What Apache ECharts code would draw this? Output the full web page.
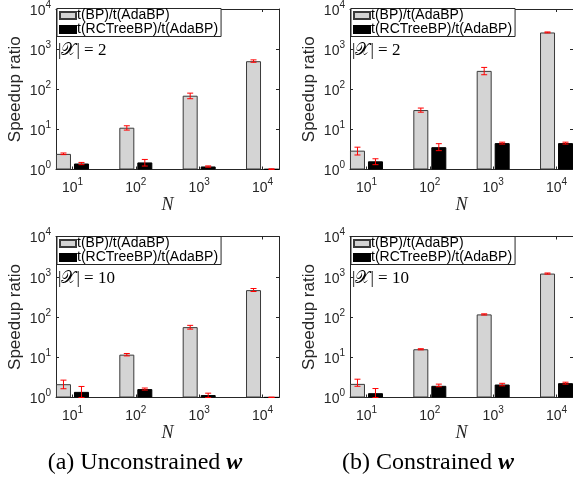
<!DOCTYPE html>
<html>
<head>
<meta charset="utf-8">
<script src="https://cdn.jsdelivr.net/npm/echarts@6.0.0/dist/echarts.min.js"></script>
<style>
html, body { margin: 0; padding: 0; background: #fff; }
#chart { width: 573px; height: 482px; }
</style>
</head>
<body>
<div id="chart"></div>
<script>
// N = 10^1 .. 10^4
const nExponents = [1, 2, 3, 4];
const yExponents = [0, 1, 2, 3, 4];
const seriesNames = ['t(BP)/t(AdaBP)', 't(RCTreeBP)/t(AdaBP)'];

// (a) unconstrained, |X| = 2
const bpUnc2 = [2.45, 11.0, 69, 500];
const bpUnc2Lo = [2.35, 9.6, 58, 470];
const bpUnc2Hi = [2.58, 12.3, 80, 540];
const rcUnc2 = [1.41, 1.5, 1.19, 1.02];
const rcUnc2Lo = [1.32, 1.22, 1.14, 1.0];
const rcUnc2Hi = [1.5, 1.78, 1.23, 1.04];

// (b) constrained, |X| = 2
const bpCon2 = [2.95, 30.3, 287, 2600];
const bpCon2Lo = [2.3, 26.8, 230, 2540];
const bpCon2Hi = [3.6, 34, 350, 2680];
const rcCon2 = [1.6, 3.6, 4.55, 4.55];
const rcCon2Lo = [1.32, 2.95, 4.3, 4.3];
const rcCon2Hi = [1.85, 4.4, 4.8, 4.8];

// (a) unconstrained, |X| = 10
const bpUnc10 = [2.14, 11.6, 56, 465];
const bpUnc10Lo = [1.65, 10.8, 50, 430];
const bpUnc10Hi = [2.7, 12.4, 62, 510];
const rcUnc10 = [1.38, 1.62, 1.15, 1.01];
const rcUnc10Lo = [1.0, 1.53, 1.0, 1.0];
const rcUnc10Hi = [1.88, 1.72, 1.28, 1.02];

// (b) constrained, |X| = 10
const bpCon10 = [2.18, 15.8, 116, 1200];
const bpCon10Lo = [1.9, 15.3, 112, 1160];
const bpCon10Hi = [2.85, 16.3, 120, 1240];
const rcCon10 = [1.28, 1.95, 2.1, 2.27];
const rcCon10Lo = [1.0, 1.85, 1.95, 2.15];
const rcCon10Hi = [1.67, 2.15, 2.25, 2.4];

const panels = [
    { left: 56, top: 8.5, card: '2', bp: [bpUnc2, bpUnc2Lo, bpUnc2Hi], rc: [rcUnc2, rcUnc2Lo, rcUnc2Hi] },
    { left: 350, top: 8.5, card: '2', bp: [bpCon2, bpCon2Lo, bpCon2Hi], rc: [rcCon2, rcCon2Lo, rcCon2Hi] },
    { left: 56, top: 236.5, card: '10', bp: [bpUnc10, bpUnc10Lo, bpUnc10Hi], rc: [rcUnc10, rcUnc10Lo, rcUnc10Hi] },
    { left: 350, top: 236.5, card: '10', bp: [bpCon10, bpCon10Lo, bpCon10Hi], rc: [rcCon10, rcCon10Lo, rcCon10Hi] }
];
const captions = [
    { text: '(a) Unconstrained ', cx: 145 },
    { text: '(b) Constrained ', cx: 428 }
];

const PLOT_W = 223, PLOT_H = 161;
const BAR_W = 15, BAR_GAP = 3;
const X_MIN = 0.74, X_MAX = 4.26;
const AXIS_COLOR = '#262626';
const SANS = '"Liberation Sans", Arial, sans-serif';
const SERIF = '"Liberation Serif", "DejaVu Serif", serif';

const powRich = {
    b: { fontSize: 14, lineHeight: 18, verticalAlign: 'bottom', color: AXIS_COLOR, fontFamily: SANS },
    s: { fontSize: 10, lineHeight: 10, verticalAlign: 'top', color: AXIS_COLOR, fontFamily: SANS }
};

//误差线：以柱子中心为准左右偏移
function errRenderer(shift) {
    return function (params, api) {
        let lo = api.coord([api.value(0), api.value(1)]);
        let hi = api.coord([api.value(0), api.value(2)]);
        let x = lo[0] + shift;
        let st = { stroke: '#ff0000', lineWidth: 1 };
        return {
            type: 'group',
            children: [
                { type: 'line', shape: { x1: x, y1: lo[1], x2: x, y2: hi[1] }, style: st },
                { type: 'line', shape: { x1: x - 3, y1: lo[1], x2: x + 3, y2: lo[1] }, style: st },
                { type: 'line', shape: { x1: x - 3, y1: hi[1], x2: x + 3, y2: hi[1] }, style: st }
            ]
        };
    };
}

let grids = [], xAxes = [], yAxes = [], series = [], legends = [], texts = [];

panels.forEach((p, i) => {
    grids.push({ left: p.left, top: p.top, width: PLOT_W, height: PLOT_H, show: false });

    let xBase = { type: 'value', gridIndex: i, min: X_MIN, max: X_MAX, splitLine: { show: false },
        axisLine: { show: true, onZero: false, lineStyle: { color: AXIS_COLOR, width: 1 } },
        axisTick: { show: true, inside: true, length: 3, customValues: nExponents, lineStyle: { color: AXIS_COLOR } } };
    xAxes.push(Object.assign({}, xBase, {
        position: 'bottom',
        name: 'N', nameLocation: 'middle', nameGap: 11,
        nameTextStyle: { fontFamily: SERIF, fontStyle: 'italic', fontSize: 18, color: AXIS_COLOR },
        axisLabel: { show: true, margin: 8, customValues: nExponents, rich: powRich,
            formatter: v => '{b|10}{s|' + v + '}' }
    }));
    xAxes.push(Object.assign({}, xBase, { position: 'top', axisLabel: { show: false } }));

    let yBase = { type: 'log', logBase: 10, gridIndex: i, min: 1, max: 10000, splitLine: { show: false },
        minorTick: { show: false },
        axisLine: { show: true, lineStyle: { color: AXIS_COLOR, width: 1 } },
        axisTick: { show: true, inside: true, length: 3, lineStyle: { color: AXIS_COLOR } } };
    yAxes.push(Object.assign({}, yBase, {
        position: 'left',
        name: 'Speedup ratio', nameLocation: 'middle', nameGap: 32,
        nameTextStyle: { fontFamily: SANS, fontSize: 17, color: AXIS_COLOR },
        axisLabel: { show: true, margin: 5, rich: powRich,
            formatter: v => '{b|10}{s|' + yExponents[Math.round(Math.log10(v))] + '}' }
    }));
    yAxes.push(Object.assign({}, yBase, { position: 'right', axisLabel: { show: false } }));

    let xi = i * 2, yi = i * 2;
    series.push({
        name: seriesNames[0], type: 'bar', xAxisIndex: xi, yAxisIndex: yi,
        barWidth: BAR_W, barGap: (BAR_GAP / BAR_W * 100) + '%',
        itemStyle: { color: '#d4d4d4', borderColor: '#3a3a3a', borderWidth: 1 },
        data: nExponents.map((n, k) => [n, p.bp[0][k]])
    });
    series.push({
        name: seriesNames[1], type: 'bar', xAxisIndex: xi, yAxisIndex: yi,
        barWidth: BAR_W, barGap: (BAR_GAP / BAR_W * 100) + '%',
        itemStyle: { color: '#000000', borderColor: '#000000', borderWidth: 1 },
        data: nExponents.map((n, k) => [n, p.rc[0][k]])
    });
    let off = (BAR_W + BAR_GAP) / 2;
    series.push({
        name: 'errBP' + i, type: 'custom', xAxisIndex: xi, yAxisIndex: yi, z: 5,
        renderItem: errRenderer(-off), encode: { x: 0, y: [1, 2] },
        data: nExponents.map((n, k) => [n, p.bp[1][k], p.bp[2][k]])
    });
    series.push({
        name: 'errRC' + i, type: 'custom', xAxisIndex: xi, yAxisIndex: yi, z: 5,
        renderItem: errRenderer(off), encode: { x: 0, y: [1, 2] },
        data: nExponents.map((n, k) => [n, p.rc[1][k], p.rc[2][k]])
    });

    legends.push({
        data: seriesNames, orient: 'vertical', left: p.left + 1, top: p.top,
        padding: [0, 3, 0, 2], itemGap: 0, itemWidth: 16, itemHeight: 7, icon: 'rect',
        backgroundColor: '#fff', borderColor: AXIS_COLOR, borderWidth: 1, borderRadius: 0,
        selectedMode: false,
        textStyle: { fontFamily: SANS, fontSize: 14, lineHeight: 14, color: '#000', padding: [0, 0, 0, -4] }
    });

    texts.push({
        type: 'text', left: p.left + 2, top: p.top + 34,
        style: { text: '|𝒳| = ' + p.card, font: '17px ' + SERIF, fill: '#000' }
    });
});

//标题按像素放在两列下面
captions.forEach(c => {
    texts.push({
        type: 'text', x: c.cx, y: 463,
        style: {
            text: c.text + '{w|w}', font: '24px ' + SERIF, fill: '#000',
            align: 'center', verticalAlign: 'middle',
            rich: { w: { fontFamily: SERIF, fontSize: 24, fontWeight: 'bold', fontStyle: 'italic' } }
        }
    });
});

let chart = echarts.init(document.getElementById('chart'));
chart.setOption({
    animation: false,
    backgroundColor: '#fff',
    textStyle: { fontFamily: SANS },
    grid: grids,
    xAxis: xAxes,
    yAxis: yAxes,
    legend: legends,
    series: series,
    graphic: texts
});
</script>
</body>
</html>
